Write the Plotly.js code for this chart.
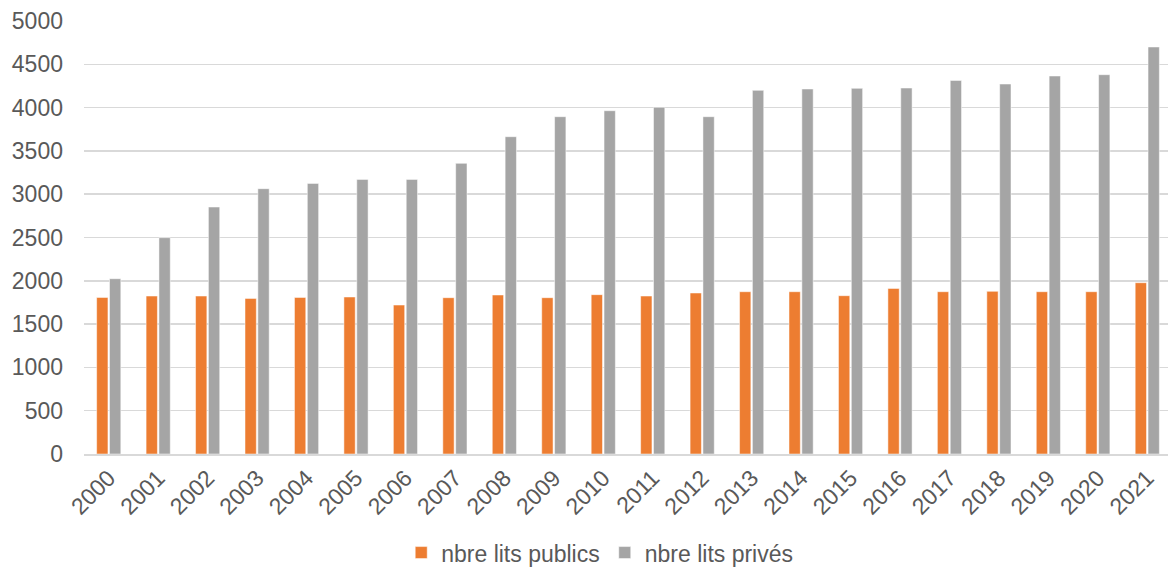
<!DOCTYPE html>
<html>
<head>
<meta charset="utf-8">
<script src="https://cdn.plot.ly/plotly-3.0.1.min.js"></script>
<style>html,body{margin:0;padding:0;overflow:hidden;background:#fff;}</style>
</head>
<body>
<div id="chart"></div>
<script>
const years = ["2000","2001","2002","2003","2004","2005","2006","2007","2008","2009","2010","2011","2012","2013","2014","2015","2016","2017","2018","2019","2020","2021"];
const publics = [1808,1824,1824,1797,1808,1813,1720,1805,1836,1805,1840,1824,1859,1874,1874,1828,1912,1874,1878,1874,1874,1978];
const prives = [2024,2498,2852,3064,3125,3171,3171,3356,3664,3895,3964,4003,3895,4199,4215,4222,4226,4314,4272,4365,4380,4700];
const yTicks = [0,500,1000,1500,2000,2500,3000,3500,4000,4500,5000];

const data = [
  {type:'bar', name:'nbre lits publics', x:years, y:publics, marker:{color:'#ed7d31', line:{color:'#ffffff', width:0.5}}},
  {type:'bar', name:'nbre lits privés', x:years, y:prives, marker:{color:'#a5a5a5', line:{color:'#ffffff', width:0.5}}}
];
const layout = {
  width:1172, height:577,
  margin:{l:84, r:0, t:21, b:123, autoexpand:false},
  paper_bgcolor:'#ffffff', plot_bgcolor:'#ffffff',
  font:{family:'Liberation Sans, Arial, sans-serif', size:23, color:'#595959'},
  barmode:'group', bargap:0.48, bargroupgap:0.12,
  showlegend:true,
  legend:{orientation:'h', x:0.474, xanchor:'center', yref:'container', y:0.005, yanchor:'bottom', font:{size:23, color:'#595959'}, itemwidth:30, traceorder:'normal'},
  xaxis:{type:'category', tickangle:-45, showgrid:false, showline:true, linecolor:'#d9d9d9', linewidth:1.5, ticks:'', automargin:false, tickfont:{size:23, color:'#595959'}},
  yaxis:{range:[0,5000], tickvals:yTicks, ticktext:yTicks.map(String), showgrid:true, gridcolor:'#d9d9d9', gridwidth:1.5, zeroline:false, showline:false, ticks:'', automargin:false, ticklabelstandoff:20, tickfont:{size:23, color:'#595959'}}
};
Plotly.newPlot('chart', data, layout, {displayModeBar:false, staticPlot:true});
</script>
</body>
</html>
